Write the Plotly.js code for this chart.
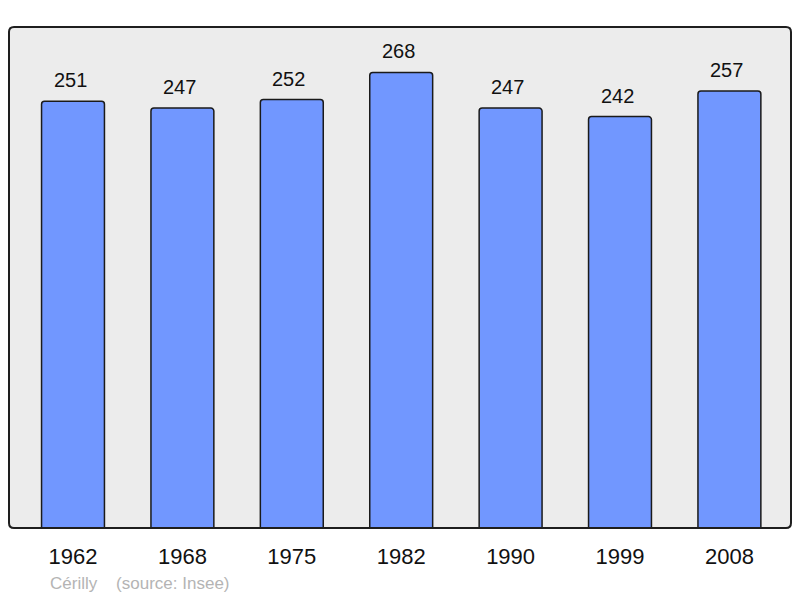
<!DOCTYPE html>
<html>
<head>
<meta charset="utf-8">
<script src="https://cdn.plot.ly/plotly-3.0.1.min.js"></script>
<style>
  html, body { margin: 0; padding: 0; background: #fff; }
  #chart { width: 800px; height: 598px; }
</style>
</head>
<body>
<div id="chart"></div>
<script>
// population de Cérilly par recensement
const years = ["1962", "1968", "1975", "1982", "1990", "1999", "2008"];
const population = [251, 247, 252, 268, 247, 242, 257];

const fontFamily = "'Liberation Sans', Arial, sans-serif";

// on a category axis a year string would be read as an index, so use i
const labels = years.map((y, i) => ({
  x: i,
  y: population[i],
  text: String(population[i]),
  showarrow: false,
  yanchor: "bottom",
  yshift: 8,
  xshift: -3,
  font: { family: fontFamily, size: 20, color: "#111" }
}));

labels.push({
  xref: "paper", yref: "paper",
  x: 0.05, y: -0.11,
  xanchor: "left", yanchor: "middle",
  text: "Cérilly&nbsp;&nbsp;&nbsp;&nbsp;(source: Insee)",
  showarrow: false,
  font: { family: fontFamily, size: 17, color: "#b4b4b4" }
});

// frame with slightly rounded corners (paper units)
const rx = 0.0064, ry = 0.01;
const framePath = `M ${rx},0 L ${1 - rx},0 Q 1,0 1,${ry} L 1,${1 - ry} Q 1,1 ${1 - rx},1 ` +
  `L ${rx},1 Q 0,1 0,${1 - ry} L 0,${ry} Q 0,0 ${rx},0 Z`;

Plotly.newPlot("chart", [{
  type: "bar",
  x: years,
  y: population,
  width: 0.575,
  marker: {
    color: "#7197ff",
    cornerradius: 3,
    line: { color: "#1a1a1a", width: 1.5 }
  },
  hoverinfo: "x+y"
}], {
  width: 800,
  height: 598,
  paper_bgcolor: "#ffffff",
  plot_bgcolor: "#ececec",
  margin: { l: 9, r: 9, t: 27, b: 70 },
  showlegend: false,
  xaxis: {
    type: "category",
    range: [-0.585, 6.563],
    showgrid: false,
    zeroline: false,
    showline: false,
    ticks: "outside",
    ticklen: 9,
    tickcolor: "rgba(0,0,0,0)",
    tickfont: { family: fontFamily, size: 22, color: "#111" }
  },
  yaxis: {
    range: [0, 294.7],
    showgrid: false,
    zeroline: false,
    showline: false,
    showticklabels: false,
    ticks: ""
  },
  annotations: labels,
  shapes: [{
    type: "path",
    xref: "paper", yref: "paper",
    path: framePath,
    line: { color: "#1e1e1e", width: 2 },
    fillcolor: "rgba(0,0,0,0)",
    layer: "above"
  }]
}, { displayModeBar: false, staticPlot: true });
</script>
</body>
</html>
